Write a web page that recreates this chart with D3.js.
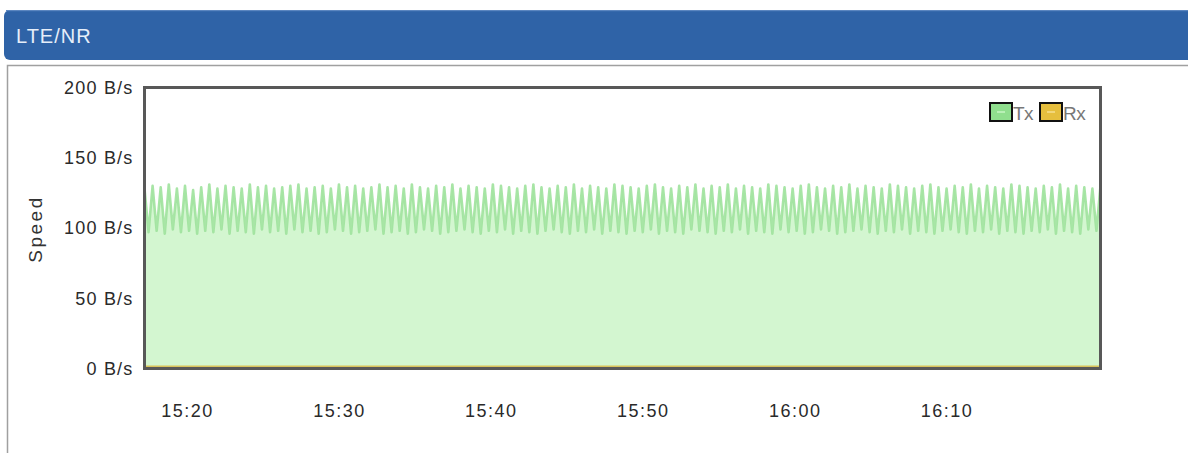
<!DOCTYPE html>
<html><head><meta charset="utf-8">
<script src="https://cdn.jsdelivr.net/npm/d3@7"></script>
<style>
html,body{margin:0;padding:0;background:#fff;}
svg{display:block;font-family:"Liberation Sans",Arial,sans-serif;}
</style></head>
<body>
<svg id="chart" width="1188" height="453"></svg>
<script>
const title = "LTE/NR";
const yAxisTitle = "Speed";
const seriesNames = ["Tx", "Rx"];
const yTicks = [0, 50, 100, 150, 200];
const xTickTimes = ["15:20", "15:30", "15:40", "15:50", "16:00", "16:10"];
const startTime = "15:17:12";
const endTime = "16:20:08";
const sampleSeconds = 16;
const txValues = [
128,97,130,98,129,96,131,99,128,97,130,98,127,96,129,98,131,97,128,99,
130,96,129,98,128,97,131,96,129,99,130,97,128,98,129,96,130,99,131,97,
128,98,129,96,130,97,128,99,131,98,129,96,130,97,128,98,129,99,131,96,
129,97,130,98,128,96,131,97,129,99,128,98,130,96,129,97,131,98,128,99,
130,97,129,96,128,98,131,97,130,99,129,96,128,98,130,97,131,96,129,98,
128,99,130,97,129,96,131,98,128,97,130,99,129,96,128,98,131,97,130,96,
129,98,128,97,130,99,131,96,129,98,128,97,130,96,129,99,131,98,128,97,
130,96,129,98,131,97,128,99,130,96,129,98,128,97,131,96,130,99,129,97,
128,98,130,96,131,97,129,99,128,98,130,96,129,97,131,98,128,99,130,97,
129,96,128,98,131,97,130,99,129,96,128,98,130,97,131,96,129,98,128,99,
130,97,129,96,131,98,128,97,130,99,129,96,128,98,131,97,130,96,129,98,
128,97,130,99,129,96,131,98,128,97,130,96,129,99,128,98,130
];
const rxValues = [
0,0,0,0,0,0,0,0,0,0,0,0,0,0,0,0,0,0,0,0,
0,0,0,0,0,0,0,0,0,0,0,0,0,0,0,0,0,0,0,0,
0,0,0,0,0,0,0,0,0,0,0,0,0,0,0,0,0,0,0,0,
0,0,0,0,0,0,0,0,0,0,0,0,0,0,0,0,0,0,0,0,
0,0,0,0,0,0,0,0,0,0,0,0,0,0,0,0,0,0,0,0,
0,0,0,0,0,0,0,0,0,0,0,0,0,0,0,0,0,0,0,0,
0,0,0,0,0,0,0,0,0,0,0,0,0,0,0,0,0,0,0,0,
0,0,0,0,0,0,0,0,0,0,0,0,0,0,0,0,0,0,0,0,
0,0,0,0,0,0,0,0,0,0,0,0,0,0,0,0,0,0,0,0,
0,0,0,0,0,0,0,0,0,0,0,0,0,0,0,0,0,0,0,0,
0,0,0,0,0,0,0,0,0,0,0,0,0,0,0,0,0,0,0,0,
0,0,0,0,0,0,0,0,0,0,0,0,0,0,0,0,0
];

const parse = d3.timeParse("%H:%M:%S");
const parseHM = d3.timeParse("%H:%M");
const t0 = parse(startTime), t1 = parse(endTime);
const times = txValues.map((_, i) => new Date(t0.getTime() + i * sampleSeconds * 1000));

const svg = d3.select("#chart");

// header bar
svg.append("rect").attr("x", 4).attr("y", 10).attr("width", 1200).attr("height", 50)
  .attr("rx", 6).attr("fill", "#2f63a7");
svg.append("rect").attr("x", 6).attr("y", 10).attr("width", 1200).attr("height", 1.2)
  .attr("fill", "#5b86c0");
svg.append("text").attr("x", 16).attr("y", 43).text(title)
  .attr("fill", "#e6eef9").attr("font-size", 20).attr("letter-spacing", "1");

// panel border
svg.append("path").attr("d", "M7.5,453 V65.5 H1188").attr("fill", "none")
  .attr("stroke", "#a0a0a0").attr("stroke-width", 1.5);

const plot = {left: 144.5, right: 1100.5, top: 87.5, bottom: 368.5};
const x = d3.scaleTime().domain([t0, t1]).range([plot.left, plot.right]);
const y = d3.scaleLinear().domain([0, 200]).range([plot.bottom, plot.top]);

const txData = txValues.map((v, i) => ({t: times[i], v}));
const rxData = rxValues.map((v, i) => ({t: times[i], v}));

svg.append("clipPath").attr("id", "clip").append("rect")
  .attr("x", plot.left).attr("y", plot.top)
  .attr("width", plot.right - plot.left).attr("height", plot.bottom - plot.top);

const g = svg.append("g").attr("clip-path", "url(#clip)");
g.append("path").datum(txData)
  .attr("d", d3.area().x(d => x(d.t)).y0(y(0)).y1(d => y(d.v)))
  .attr("fill", "#d3f6d0");
g.append("path").datum(txData)
  .attr("d", d3.line().x(d => x(d.t)).y(d => y(d.v)))
  .attr("fill", "none").attr("stroke", "#9fe29c").attr("stroke-width", 2.6)
  .attr("stroke-linejoin", "round").attr("stroke-opacity", 0.9);
g.append("path").datum(rxData)
  .attr("d", d3.line().x(d => x(d.t)).y(d => y(d.v) - 2))
  .attr("fill", "none").attr("stroke", "#d8c25a").attr("stroke-width", 2);

// frame
svg.append("rect").attr("x", plot.left).attr("y", plot.top)
  .attr("width", plot.right - plot.left).attr("height", plot.bottom - plot.top)
  .attr("fill", "none").attr("stroke", "#585858").attr("stroke-width", 3);

// y axis labels
const yAxis = d3.axisLeft(y).tickValues(yTicks).tickSize(0).tickPadding(11)
  .tickFormat(d => d + " B/s");
const ya = svg.append("g").attr("transform", `translate(${plot.left},0)`).call(yAxis);
ya.select(".domain").remove();
ya.selectAll("text").attr("font-size", 18).attr("fill", "#2a2a2a").attr("letter-spacing", "1.2")
  .attr("font-family", "Liberation Sans, Arial, sans-serif");

svg.append("text").attr("transform", "translate(42,229) rotate(-90)")
  .attr("text-anchor", "middle").attr("font-size", 19).attr("letter-spacing", "2.5")
  .attr("fill", "#333").text(yAxisTitle);

// x axis labels
const xAxis = d3.axisBottom(x).tickValues(xTickTimes.map(parseHM)).tickSize(0).tickPadding(0)
  .tickFormat(d3.timeFormat("%H:%M"));
const xa = svg.append("g").attr("transform", `translate(0,${plot.bottom + 36})`).call(xAxis);
xa.select(".domain").remove();
xa.selectAll("text").attr("font-size", 18).attr("fill", "#2a2a2a").attr("letter-spacing", "1.5")
  .attr("font-family", "Liberation Sans, Arial, sans-serif");

// legend
const legendColors = ["#90df8e", "#e6bf3e"];
const legendInner = ["#b9f0b6", "#f2d77a"];
const legendX = [990, 1040];
seriesNames.forEach((name, i) => {
  const lg = svg.append("g").attr("transform", `translate(${legendX[i]},103)`);
  lg.append("rect").attr("x", 0).attr("y", 0).attr("width", 22).attr("height", 18)
    .attr("fill", legendColors[i]).attr("stroke", "#111").attr("stroke-width", 2);
  lg.append("line").attr("x1", 7).attr("x2", 15).attr("y1", 9).attr("y2", 9)
    .attr("stroke", legendInner[i]).attr("stroke-width", 2);
  lg.append("text").attr("x", 23).attr("y", 17).attr("font-size", 19)
    .attr("fill", "#777").attr("letter-spacing", "-0.5").text(name);
});
</script>
</body></html>
